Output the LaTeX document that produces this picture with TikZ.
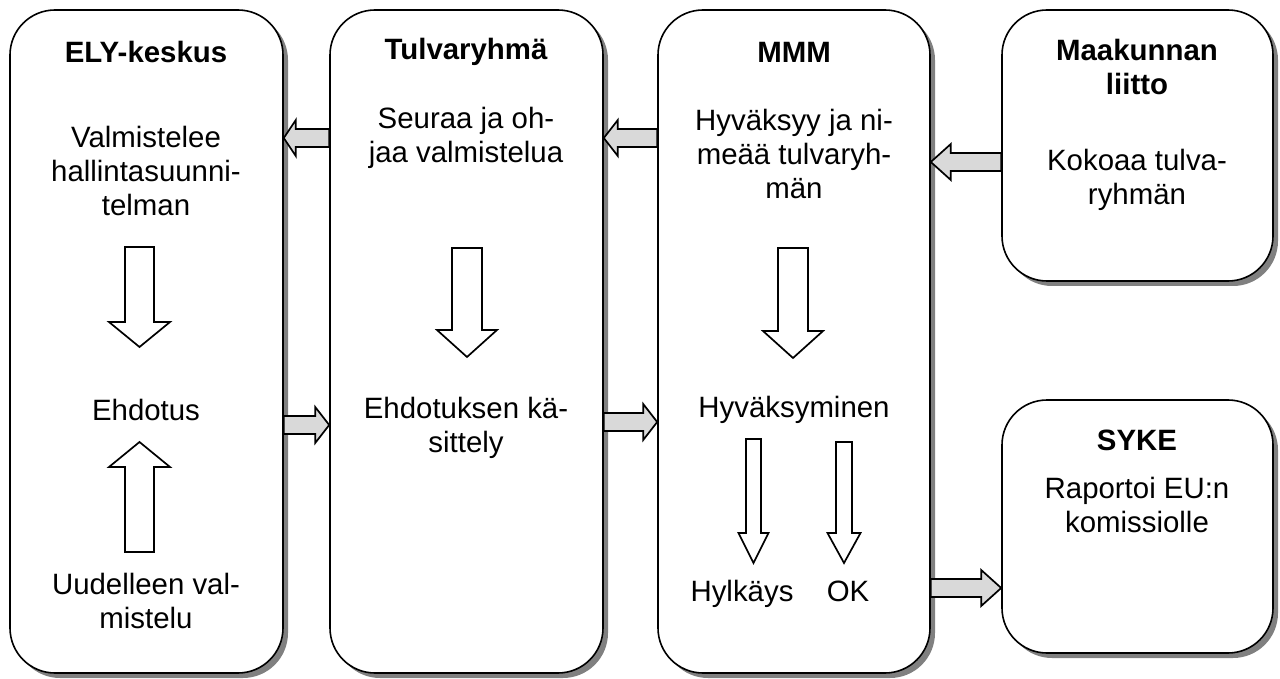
\documentclass[tikz,border=0pt]{standalone}
\usepackage{fontspec}
\setmainfont{Liberation Sans}
\usetikzlibrary{calc, shadows, positioning}

\begin{document}
\begin{tikzpicture}[x=0.5pt, y=-0.5pt,
  font=\fontsize{14.7}{17}\selectfont,
  box/.style={draw, line width=0.8pt, rounded corners=22.5pt, fill=white, inner sep=0pt,
    drop shadow={shadow xshift=2.5pt, shadow yshift=-2.5pt, opacity=1, fill=black!50}},
  txt/.style={align=center, inner sep=0pt},
  head/.style={txt, font=\fontsize{14.7}{17}\selectfont\bfseries},
  blockarr/.style n args={3}{line width=0.85pt, to path={
      -- ($(\tikztostart)!#1!-90:(\tikztotarget)$)
      -- ($(\tikztotarget)!#3!(\tikztostart)!#1!-90:(\tikztotarget)$)
      -- ($(\tikztotarget)!#3!(\tikztostart)!#2!-90:(\tikztotarget)$)
      -- (\tikztotarget)
      -- ($(\tikztotarget)!#3!(\tikztostart)!#2!90:(\tikztotarget)$)
      -- ($(\tikztotarget)!#3!(\tikztostart)!#1!90:(\tikztotarget)$)
      -- ($(\tikztostart)!#1!90:(\tikztotarget)$)
      -- cycle}},
  grayarr/.style={draw, fill=black!15, blockarr={4.5pt}{9pt}{#1}},
  whitearr/.style n args={3}{draw, fill=white, blockarr={#1}{#2}{#3}}
]
\useasboundingbox (0,0) rectangle (1280,679);

% boxes
\node[box, minimum width=136.5pt, minimum height=331.5pt] (ely)   at (146.5,341.5) {};
\node[box, minimum width=136.5pt, minimum height=331.5pt] (tulva) at (466.5,341.5) {};
\node[box, minimum width=136pt,   minimum height=331.5pt] (mmm)   at (794,341.5) {};
\node[box, minimum width=135.5pt, minimum height=135.5pt] (maak)  at (1137.5,145.5) {};
\node[box, minimum width=135.5pt, minimum height=126.5pt] (syke)  at (1137.5,526.5) {};

% texts
\node[head] (elyhead) at (146,52) {ELY-keskus};
\node[txt] (valm) at (146,171) {Valmistelee\\hallintasuunni-\\telman};
\node[txt] (ehd) at (146,410) {Ehdotus};
\node[txt] (uud) at (146,601) {Uudelleen val-\\mistelu};

\node[head] (tulvahead) at (466,52) {Tulvaryhmä};
\node[txt] (seur) at (466,138) {Seuraa ja oh-\\jaa valmistelua};
\node[txt] (kas) at (466,428) {Ehdotuksen kä-\\sittely};

\node[head] (mmmhead) at (794,52) {MMM};
\node[txt] (nim) at (794,154) {Hyväksyy ja ni-\\meää tulvaryh-\\män};
\node[txt] (hyv) at (794,410) {Hyväksyminen};
\node[txt, anchor=base] (hylk) at (742,601) {Hylkäys};
\node[txt, anchor=base] (ok) at (848,601) {OK};

\node[head] (maakhead) at (1137,67) {Maakunnan\\liitto};
\node[txt] (kok) at (1137,180) {Kokoaa tulva-\\ryhmän};

\node[head] (sykehead) at (1137,440) {SYKE};
\node[txt] (rap) at (1137,505) {Raportoi EU:n\\komissiolle};

% arrows between boxes
\draw[grayarr=6pt]  (tulva.west |- 0,138) to (ely.east |- 0,138);
\draw[grayarr=7pt]  (mmm.west |- 0,138)   to (tulva.east |- 0,138);
\draw[grayarr=10pt] (maak.west |- 0,162)  to (mmm.east |- 0,162);
\draw[grayarr=7pt]  (ely.east |- 0,425)   to (tulva.west |- 0,425);
\draw[grayarr=7pt]  (tulva.east |- 0,422) to (mmm.west |- 0,422);
\draw[grayarr=10pt] (mmm.east |- 0,588)   to (syke.west |- 0,588);

% arrows inside boxes
\coordinate (e1) at (139.5,247); \coordinate (e2) at (139.5,347);
\coordinate (e3) at (139.5,552); \coordinate (e4) at (139.5,442);
\coordinate (t1) at (467,248);   \coordinate (t2) at (467,357);
\coordinate (m1) at (793,248);   \coordinate (m2) at (793,358);
\coordinate (h1) at (753.5,439); \coordinate (h2) at (753.5,563);
\coordinate (k1) at (844,442);   \coordinate (k2) at (844,563);
\draw[whitearr={7.25pt}{15.25pt}{12.5pt}] (e1) to (e2);
\draw[whitearr={7.25pt}{15.25pt}{12.5pt}] (e3) to (e4);
\draw[whitearr={7.5pt}{15pt}{13.5pt}] (t1) to (t2);
\draw[whitearr={7.5pt}{15pt}{13.5pt}] (m1) to (m2);
\draw[whitearr={3.75pt}{7.5pt}{15pt}] (h1) to (h2);
\draw[whitearr={4pt}{8.25pt}{15pt}] (k1) to (k2);
\end{tikzpicture}
\end{document}
